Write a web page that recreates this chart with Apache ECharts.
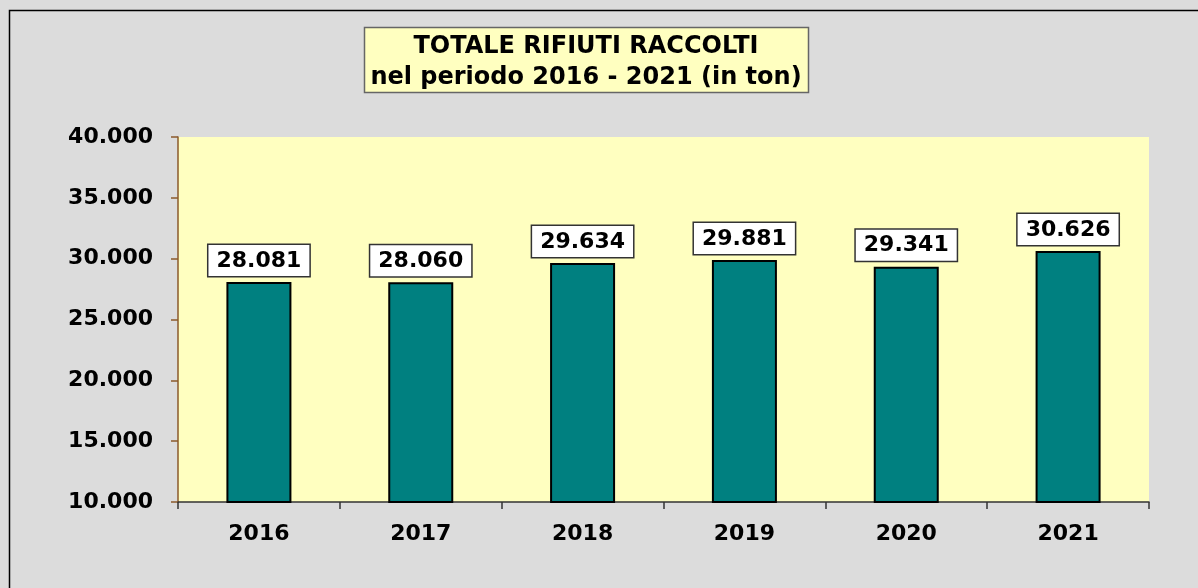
<!DOCTYPE html>
<html>
<head>
<meta charset="utf-8">
<title>Totale rifiuti raccolti</title>
<script src="https://cdn.jsdelivr.net/npm/echarts@6/dist/echarts.min.js"></script>
<style>
  html, body { margin: 0; padding: 0; background: #dcdcdc; }
  #chart { width: 1198px; height: 588px; }
</style>
</head>
<body>
<div id="chart"></div>
<script>
// dati
const anni = ['2016', '2017', '2018', '2019', '2020', '2021']
const tonnellate = [28081, 28060, 29634, 29881, 29341, 30626]
const asseMin = 10000
const asseMax = 40000
const assePasso = 5000

// separatore migliaia con il punto
function fmt(v) {
  return String(v).replace(/\B(?=(\d{3})+(?!\d))/g, '.')
}

const chart = echarts.init(document.getElementById('chart'))
const option = {
  backgroundColor: '#dcdcdc',
  animation: false,
  graphic: [
    { //cornice esterna
      type: 'rect',
      shape: { x: 9.5, y: 10.5, width: 1400, height: 800 },
      style: { fill: 'none', stroke: '#000', lineWidth: 1.5 },
      silent: true
    },
    { //riquadro del titolo
      type: 'rect',
      shape: { x: 364.5, y: 27.5, width: 444, height: 65 },
      style: { fill: '#ffffc0', stroke: '#666666', lineWidth: 1.5 },
      silent: true
    },
    {
      type: 'text',
      x: 586,
      y: 62,
      style: {
        text: 'TOTALE RIFIUTI RACCOLTI\nnel periodo 2016 - 2021 (in ton)',
        align: 'center',
        verticalAlign: 'middle',
        fontFamily: 'DejaVu Sans',
        fontWeight: 'bold',
        fontSize: 24,
        lineHeight: 31,
        fill: '#000'
      },
      silent: true
    }
  ],
  grid: {
    left: 178,
    right: 49,
    top: 137,
    bottom: 86,
    show: true,
    backgroundColor: '#ffffc0',
    borderWidth: 0
  },
  xAxis: {
    type: 'category',
    data: anni,
    axisLine: { lineStyle: { color: '#333', width: 1.5 } },
    axisTick: { show: true, alignWithLabel: false, length: 7, lineStyle: { color: '#333', width: 1.5 } },
    axisLabel: {
      margin: 21,
      fontFamily: 'DejaVu Sans',
      fontWeight: 'bold',
      fontSize: 22,
      color: '#000'
    }
  },
  yAxis: {
    type: 'value',
    min: asseMin,
    max: asseMax,
    interval: assePasso,
    splitLine: { show: false },
    axisLine: { show: true, lineStyle: { color: '#8b5a2b', width: 1.5 } },
    axisTick: { show: true, length: 7, lineStyle: { color: '#8b5a2b', width: 1.5 } },
    axisLabel: {
      margin: 25,
      formatter: fmt,
      fontFamily: 'DejaVu Sans',
      fontWeight: 'bold',
      fontSize: 22,
      color: '#000'
    }
  },
  series: [
    {
      type: 'bar',
      data: tonnellate,
      barWidth: 65,
      itemStyle: {
        color: '#008080',
        borderColor: '#000',
        borderWidth: 2
      },
      label: {
        show: true,
        position: 'top',
        distance: 6,
        formatter: p => fmt(p.value),
        backgroundColor: '#ffffff',
        borderColor: '#333',
        borderWidth: 1.5,
        padding: [5, 8, 4, 8],
        fontFamily: 'DejaVu Sans',
        fontWeight: 'bold',
        fontSize: 22,
        color: '#000'
      }
    }
  ]
}
chart.setOption(option)
</script>
</body>
</html>
